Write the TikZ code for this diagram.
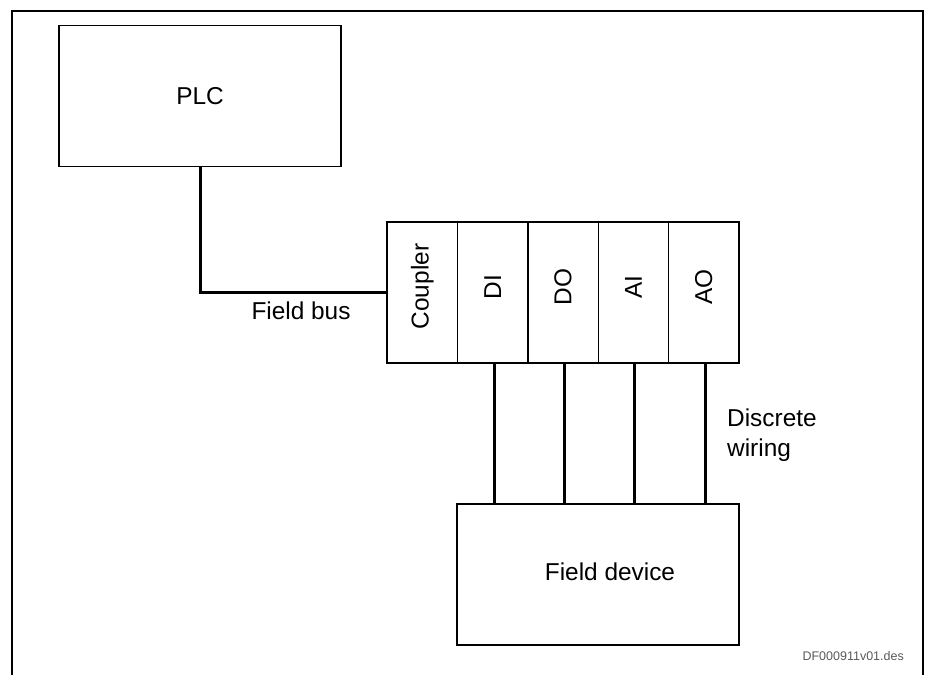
\documentclass[tikz,border=0pt]{standalone}
\usepackage{fontspec}
\setmainfont{Liberation Sans}
\usepackage{tikz}

\begin{document}
\begin{tikzpicture}[x=1pt,y=-1pt,
    box/.style={draw, line width=1.4pt, inner sep=0pt},
    module/.style={box, minimum width=70.4pt, minimum height=141pt},
    wire/.style={line width=3pt},
    txt/.style={inner sep=0pt, font=\fontsize{24.4}{29.5}\selectfont}]
    \useasboundingbox (0,0) rectangle (928,675);
    \draw[line width=2pt] (11.7,675) -- (11.7,11) -- (923,11) -- (923,675);

    \node[box, minimum width=282pt, minimum height=141pt] (PLC) at (200,96) {};
    \node[txt] (PLCtext) at (PLC.center) {PLC};

    \node[module] (CPL) at (422.2,292.5) {};
    \node[module] (DI) at (492.6,292.5) {};
    \node[module] (DO) at (563,292.5) {};
    \node[module] (AI) at (633.4,292.5) {};
    \node[module] (AO) at (703.8,292.5) {};
    \node[txt, rotate=90] (CPLtext) at ([yshift=6pt]CPL.center) {Coupler};
    \node[txt, rotate=90] (DItext) at ([yshift=5.5pt]DI.center) {DI};
    \node[txt, rotate=90] (DOtext) at ([yshift=5.5pt]DO.center) {DO};
    \node[txt, rotate=90] (AItext) at ([yshift=5.5pt]AI.center) {AI};
    \node[txt, rotate=90] (AOtext) at ([yshift=5.5pt]AO.center) {AO};

    \node[box, minimum width=282pt, minimum height=141pt] (FD) at (598,574.5) {};
    \node[txt] (FDtext) at ([xshift=12pt,yshift=3pt]FD.center) {Field device};

    \draw[wire] (PLC.south) |- (CPL.west);
    \node[txt] (bus) at (301,311) {Field bus};

    \draw[wire] ([xshift=1.5pt]DI.south) -- ([xshift=1.5pt]DI.south |- FD.north);
    \draw[wire] ([xshift=1.5pt]DO.south) -- ([xshift=1.5pt]DO.south |- FD.north);
    \draw[wire] ([xshift=1.5pt]AI.south) -- ([xshift=1.5pt]AI.south |- FD.north);
    \draw[wire] ([xshift=1.5pt]AO.south) -- ([xshift=1.5pt]AO.south |- FD.north);
    \node[txt, align=left, anchor=north west] (disc) at (727,409) {Discrete\\wiring};

    \node[inner sep=0pt, anchor=east, text=black!65, font=\fontsize{12.5}{15}\selectfont] (ref) at (904,656) {DF000911v01.des};

\end{tikzpicture}
\end{document}
